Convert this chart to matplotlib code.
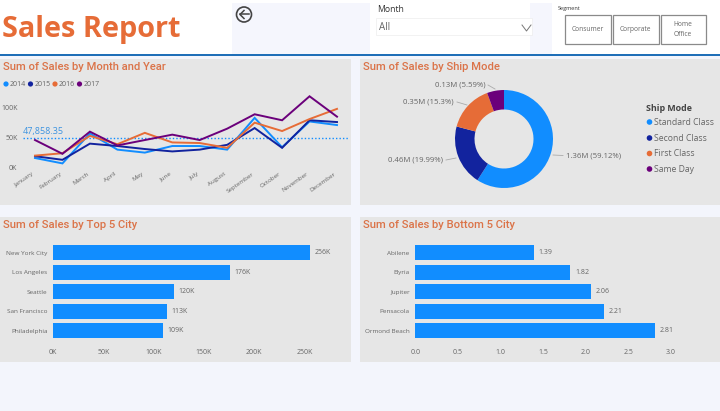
import matplotlib
matplotlib.use("Agg")
import matplotlib.pyplot as plt
from matplotlib.patches import Rectangle, Circle
from matplotlib.transforms import ScaledTranslation

W, H = 720, 411

months = ["January", "February", "March", "April", "May", "June", "July",
          "August", "September", "October", "November", "December"]
sales_2014 = [15, 6, 56, 29, 24, 35, 35, 29, 82, 33, 76, 70]
sales_2015 = [18, 12, 39, 35, 30, 26, 29, 37, 65, 32, 78, 75]
sales_2016 = [19, 23, 52, 38, 57, 41, 40, 32, 74, 60, 80, 97]
sales_2017 = [45, 22, 59, 36, 45, 54, 45, 64, 88, 78, 118, 84]
years = ["2014", "2015", "2016", "2017"]
avg_line = 47.85835

ship_modes = ["Standard Class", "Second Class", "First Class", "Same Day"]
ship_share = [59.12, 19.99, 15.3, 5.59]
ship_labels = ["1.36M (59.12%)", "0.46M (19.99%)", "0.35M (15.3%)", "0.13M (5.59%)"]

top_cities = ["New York City", "Los Angeles", "Seattle", "San Francisco", "Philadelphia"]
top_sales = [256, 176, 120, 113, 109]
bottom_cities = ["Abilene", "Elyria", "Jupiter", "Pensacola", "Ormond Beach"]
bottom_sales = [1.39, 1.82, 2.06, 2.21, 2.81]

BLUE = "#118DFF"
NAVY = "#12239E"
ORANGE = "#E66C37"
PURPLE = "#6B007B"
GREY = "#666666"
TITLE_FONT = "Roboto"
colors = [BLUE, NAVY, ORANGE, PURPLE]

plt.rcParams["font.family"] = ["Open Sans", "DejaVu Sans"]

fig = plt.figure(figsize=(W / 100, H / 100), dpi=100, facecolor="white")


def px_axes(x0, y0, x1, y1, **kw):
    # pixel box measured from the top left of the picture
    return fig.add_axes([x0 / W, 1 - y1 / H, (x1 - x0) / W, (y1 - y0) / H], **kw)


# page, everything is placed in pixels on this one
bg = px_axes(0, 0, W, H)
bg.set_xlim(0, W)
bg.set_ylim(H, 0)
bg.axis("off")


def box(x0, y0, x1, y1, fc, ec="none", lw=0):
    bg.add_patch(Rectangle((x0, y0), x1 - x0, y1 - y0, fc=fc, ec=ec, lw=lw))


box(0, 56, W, H, "#F3F5FC")
box(232, 3, 370, 54, "#F5F6FD")
box(530, 3, 552, 54, "#F5F6FD")
box(0, 54, W, 56.5, "#1F6FB8")

panels = [(0, 59, 351, 205), (360, 59, W, 205), (0, 217, 351, 362), (360, 217, W, 362)]
for p in panels:
    box(*p, "#E6E6E6")

titles = ["Sum of Sales by Month and Year", "Sum of Sales by Ship Mode",
          "Sum of Sales by Top 5 City", "Sum of Sales by Bottom 5 City"]
for p, t in zip(panels, titles):
    bg.text(p[0] + 3, p[1] + 8, t, color="#DB7348", fontsize=8.1, family=TITLE_FONT,
            fontweight="medium", va="center", ha="left")

# header
bg.text(2, 29, "Sales Report", color=ORANGE, fontsize=20.8, fontweight="bold", va="center", ha="left")
bg.add_patch(Circle((244, 14.5), 7.5, fc="none", ec="#444444", lw=1.2))
bg.plot([240, 249], [14.5, 14.5], color="#444444", lw=1.1)
bg.plot([244, 240, 244], [10.5, 14.5, 18.5], color="#444444", lw=1.1)
bg.text(377, 9.5, "Month", color="#333333", fontsize=6.2, va="center")
box(375.5, 18, 532, 35, "white", ec="#EDEDED", lw=0.5)
bg.text(379, 28, "All", color=GREY, fontsize=7, va="center")
bg.plot([522, 526.5, 531], [25, 31, 25], color="#777777", lw=0.7)
bg.text(558, 8.5, "Segment", color="#333333", fontsize=4, va="center")
for x0, x1, label in [(565, 611, "Consumer"), (612.5, 659, "Corporate"), (660.5, 706, "Home\nOffice")]:
    box(x0, 15, x1, 44, "white", ec="#8A8A8A", lw=0.9)
    bg.text((x0 + x1) / 2, 29.5, label, color=GREY, fontsize=4.8, ha="center", va="center", linespacing=1.5)

# line chart
ax = px_axes(23, 90, 349, 167)
ax.patch.set_alpha(0)
for vals, c in zip([sales_2014, sales_2015, sales_2016, sales_2017], colors):
    ax.plot(range(12), vals, color=c, lw=1.4, solid_joinstyle="miter", zorder=3)
ax.axhline(avg_line, color=BLUE, lw=1, ls=(0, (1, 1.5)), zorder=2)
ax.text(-0.43, avg_line + 4, "47,858.35", color="#3C93E0", fontsize=6.5, va="bottom", ha="left")
ax.set_xlim(-0.437, 11.437)
ax.set_ylim(0, 128.5)
ax.set_xticks(range(12))
ax.set_xticklabels(months, rotation=35, ha="right", rotation_mode="anchor", fontsize=4.5, color=GREY)
ax.set_yticks([0, 50, 100])
ax.set_yticklabels(["0K", "50K", "100K"], fontsize=5, color=GREY)
ax.tick_params(length=0, pad=4)
ax.tick_params(axis="x", pad=3)
# rotated month labels end a little left of their point
shift = ScaledTranslation(-3 / 100, 0, fig.dpi_scale_trans)
for lab in ax.get_xticklabels():
    lab.set_transform(lab.get_transform() + shift)
for s in ax.spines.values():
    s.set_visible(False)

# legend of the line chart, Power BI style
for x, y_label, c in zip([6, 30.5, 55, 79.5], years, colors):
    bg.add_patch(Circle((x, 84), 2.6, fc=c, ec="none"))
    bg.text(x + 4, 84, y_label, color=GREY, fontsize=5, va="center")

# donut
dx = px_axes(504 - 50, 139 - 50, 504 + 50, 139 + 50)
dx.pie(ship_share, colors=colors, startangle=90, counterclock=False, radius=0.98,
       wedgeprops=dict(width=0.39, ec="none"))
dx.set_xlim(-1, 1)
dx.set_ylim(-1, 1)

label_pos = [(566, 155.5, "left"), (443, 160, "right"), (454, 102, "right"), (485.5, 85, "right")]
leader = [((553, 155), (563, 155.5)), ((456, 158), (446, 160)),
          ((467, 105), (457, 102)), ((495, 89), (488, 85))]
for (x, y, ha), txt, (a, b) in zip(label_pos, ship_labels, leader):
    bg.text(x, y, txt, color=GREY, fontsize=5.6, va="center", ha=ha)
    bg.plot([a[0], b[0]], [a[1], b[1]], color="#AAAAAA", lw=0.6)

bg.text(646, 108.5, "Ship Mode", color="#444444", fontsize=6.4, fontweight="bold", va="center")
for y, mode, c in zip([122, 138, 153.5, 169], ship_modes, colors):
    bg.add_patch(Circle((649.5, y), 2.8, fc=c, ec="none"))
    bg.text(654.5, y, mode, color=GREY, fontsize=6.2, va="center")


def bar_chart(box_px, cities, vals, xlim, ticks, ticklabels, labels, offset):
    a = px_axes(*box_px)
    a.patch.set_alpha(0)
    a.barh(range(5), vals, height=0.77, color=BLUE, zorder=3)
    a.set_xlim(*xlim)
    a.set_ylim(4.62, -0.62)
    a.set_yticks(range(5))
    a.set_yticklabels(cities, fontsize=4.6, color=GREY)
    a.set_xticks(ticks)
    a.set_xticklabels(ticklabels, fontsize=5, color=GREY)
    a.tick_params(length=0)
    a.tick_params(axis="y", pad=4)
    a.tick_params(axis="x", pad=4.5)
    for s in a.spines.values():
        s.set_visible(False)
    for i, (v, t) in enumerate(zip(vals, labels)):
        a.text(v + offset, i, t, color=GREY, fontsize=5, va="center", ha="left")


# bars sit on 19.5 px rows, axes span 5.24 rows
bar_chart((53, 240.6, 340, 342.8), top_cities, top_sales, (0, 285.5),
          [0, 50, 100, 150, 200, 250], ["0K", "50K", "100K", "150K", "200K", "250K"],
          [f"{v}K" for v in top_sales], 4.5)
bar_chart((415.3, 240.6, 700, 342.8), bottom_cities, bottom_sales, (0, 3.34),
          [0, 0.5, 1, 1.5, 2, 2.5, 3], ["0.0", "0.5", "1.0", "1.5", "2.0", "2.5", "3.0"],
          [f"{v:.2f}" for v in bottom_sales], 0.055)

fig.savefig("out.png", dpi=100)
